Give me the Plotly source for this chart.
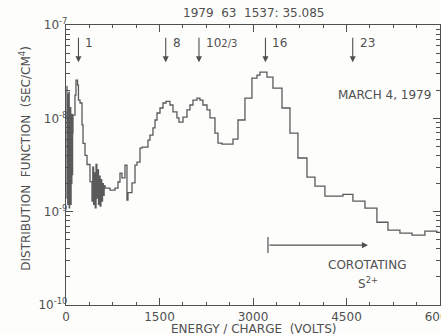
import math
import plotly.graph_objects as go

# Channel left edges (volts) and distribution function values (sec/cm^4)
energy_edges = [
    10, 16, 22, 28, 34, 40, 46, 52, 58, 64, 70, 76, 82, 88, 94, 100, 106,
    112, 144, 160, 185, 200, 225, 257, 273, 305, 337, 385,
    417, 430, 443, 456, 469, 482, 495, 508, 521, 534, 547, 560, 573, 586, 599, 612,
    626, 706, 786, 834, 866, 898, 946, 978, 994, 1059, 1107, 1139, 1187, 1219,
    1315, 1347, 1395, 1428, 1460, 1508, 1556, 1604, 1668, 1716, 1780, 1812,
    1877, 1941, 1989, 2037, 2101, 2149, 2197, 2262, 2310, 2390, 2438, 2502,
    2679, 2759, 2871, 2983, 3064, 3112, 3224, 3320, 3465, 3593, 3721, 3866,
    3994, 4154, 4443, 4603, 4796, 4988, 5165, 5357, 5550, 5758, 5951,
]
energy_last_edge = 6015
f_values = [
    2.2e-8, 1.4e-9, 1.8e-8, 1.2e-9, 1.4e-8, 1.6e-9, 1.9e-8, 1.1e-9, 1.0e-8, 1.5e-9,
    1.3e-8, 1.2e-9, 8.0e-9, 2.0e-9, 1.1e-8, 2.5e-9, 7.0e-9,
    1.08e-8, 1.77e-8, 2.57e-8, 2.27e-8, 1.57e-8, 1.46e-8, 8.5e-9, 5.4e-9, 4.0e-9, 3.2e-9, 2.1e-9,
    1.3e-9, 3.0e-9, 1.2e-9, 2.6e-9, 1.1e-9, 3.2e-9, 1.4e-9, 2.8e-9, 1.2e-9, 2.4e-9,
    1.15e-9, 2.2e-9, 1.3e-9, 2.0e-9, 1.5e-9, 1.9e-9,
    1.79e-9, 1.70e-9, 1.79e-9, 2.08e-9, 2.59e-9, 2.3e-9, 3.16e-9, 1.33e-9, 1.6e-9, 2.03e-9,
    3.16e-9, 3.4e-9, 4.8e-9, 4.92e-9,
    5.85e-9, 6.6e-9, 7.9e-9, 9.6e-9, 1.14e-8, 1.29e-8, 1.46e-8, 1.52e-8, 1.39e-8, 1.17e-8,
    1.01e-8, 9.1e-9, 1.03e-8, 1.23e-8, 1.39e-8, 1.57e-8, 1.65e-8, 1.57e-8, 1.39e-8,
    1.23e-8, 1.01e-8, 6.95e-9, 5.43e-9, 5.3e-9, 6.0e-9, 9.6e-9, 1.65e-8, 2.70e-8,
    2.91e-8, 3.13e-8, 2.77e-8, 2.11e-8, 1.29e-8, 6.95e-9, 3.76e-9, 2.35e-9, 1.88e-9,
    1.47e-9, 1.53e-9, 1.3e-9, 1.09e-9, 7.7e-10, 6.35e-10, 5.9e-10, 5.6e-10, 6.2e-10, 6.0e-10,
]

# Mass-per-charge markers (energy per unit M/Q = 200 V)
mq_values = [1, 8, 32 / 3, 16, 23]
mq_labels = ["1", "8", "10<span style='font-size:10px'>2/3</span>", "16", "23"]
volts_per_mq = 200

# Corotating S2+ energy range arrow
corot_start, corot_end = 3240, 4844
corot_level = 4.38e-10
corot_bar = [5.35e-10, 3.6e-10]

x_ticks = [0, 1500, 3000, 4500, 6000]
y_ticks = [1e-10, 1e-9, 1e-8, 1e-7]
y_ticktext = ["10<sup>-10</sup>", "10<sup>-9</sup>", "10<sup>-8</sup>", "10<sup>-7</sup>"]

INK = "#505050"
FONT = "DejaVu Sans"

fig = go.Figure()
fig.add_trace(go.Scatter(
    x=energy_edges + [energy_last_edge],
    y=f_values + [f_values[-1]],
    mode="lines", line=dict(shape="hv", color="#5a5a5a", width=1.3),
    hoverinfo="skip", showlegend=False,
))
fig.add_trace(go.Scatter(
    x=[corot_start, corot_start], y=corot_bar, mode="lines",
    line=dict(color=INK, width=1.2), hoverinfo="skip", showlegend=False,
))

annotations = []
for mq, lab in zip(mq_values, mq_labels):
    e = mq * volts_per_mq
    annotations.append(dict(
        x=e, y=-7.40, xref="x", yref="y", text="", showarrow=True,
        ax=0, ay=-26, arrowhead=2, arrowsize=1.1, arrowwidth=1.1, arrowcolor=INK,
    ))
    annotations.append(dict(
        x=e, y=-7.19, xref="x", yref="y", text=lab, showarrow=False,
        xanchor="left", xshift=5, font=dict(size=12, color=INK, family=FONT),
    ))

annotations += [
    dict(x=corot_end, y=math.log10(corot_level), xref="x", yref="y",
         ax=corot_start, ay=math.log10(corot_level), axref="x", ayref="y",
         text="", showarrow=True, arrowhead=2, arrowsize=1.1, arrowwidth=1.1,
         arrowcolor=INK),
    dict(x=4830, y=-9.572, xref="x", yref="y", text="COROTATING", showarrow=False,
         font=dict(size=12, color=INK, family=FONT)),
    dict(x=4844, y=-9.76, xref="x", yref="y", text="S<sup>2+</sup>", showarrow=False,
         font=dict(size=12, color=INK, family=FONT)),
    dict(x=0.981, y=-7.75, xref="paper", yref="y", text="MARCH 4, 1979",
         showarrow=False, xanchor="right", font=dict(size=12, color=INK, family=FONT)),
    dict(x=0.5, y=1, xref="paper", yref="paper", text="1979  63  1537: 35.085",
         showarrow=False, yanchor="bottom", yshift=3,
         font=dict(size=12, color=INK, family=FONT)),
    dict(x=0.5, y=0, xref="paper", yref="paper", text="ENERGY / CHARGE  (VOLTS)",
         showarrow=False, yanchor="top", yshift=-15,
         font=dict(size=12, color=INK, family=FONT)),
    dict(x=-0.137, y=0.525, xref="paper", yref="paper",
         text="DISTRIBUTION  FUNCTION  (SEC/CM<sup>4</sup>)", textangle=-90,
         showarrow=False, font=dict(size=12, color=INK, family=FONT)),
]

y_minor = [m * 10.0 ** d for d in (-10, -9, -8) for m in range(2, 10)]

fig.update_layout(
    width=441, height=334,
    margin=dict(l=66, r=1, t=25, b=29),
    paper_bgcolor="#fdfdfc", plot_bgcolor="#fdfdfc",
    showlegend=False,
    annotations=annotations,
    font=dict(family=FONT, color=INK, size=12),
    xaxis=dict(
        range=[0, 6000], tickvals=x_ticks, ticks="inside", ticklen=7,
        tickwidth=1.1, tickcolor=INK, showline=True, linecolor=INK, linewidth=1.3,
        mirror="allticks", showgrid=False, zeroline=False, automargin=False,
        ticklabeloverflow="allow",
        tickfont=dict(size=12, color=INK, family=FONT),
        minor=dict(dtick=375, tick0=0, ticks="inside", ticklen=3, tickcolor=INK,
                   tickwidth=1, showgrid=False),
    ),
    yaxis=dict(
        type="log", range=[-10, -7], tickvals=y_ticks, ticktext=y_ticktext,
        ticks="inside", ticklen=7, tickwidth=1.1, tickcolor=INK,
        showline=True, linecolor=INK, linewidth=1.3, mirror="allticks",
        showgrid=False, zeroline=False, automargin=False, ticklabelstandoff=-5,
        tickfont=dict(size=12, color=INK, family=FONT),
        minor=dict(tickvals=y_minor, ticks="inside", ticklen=4, tickcolor=INK,
                   tickwidth=1, showgrid=False),
    ),
)

fig.write_html("out.html")
